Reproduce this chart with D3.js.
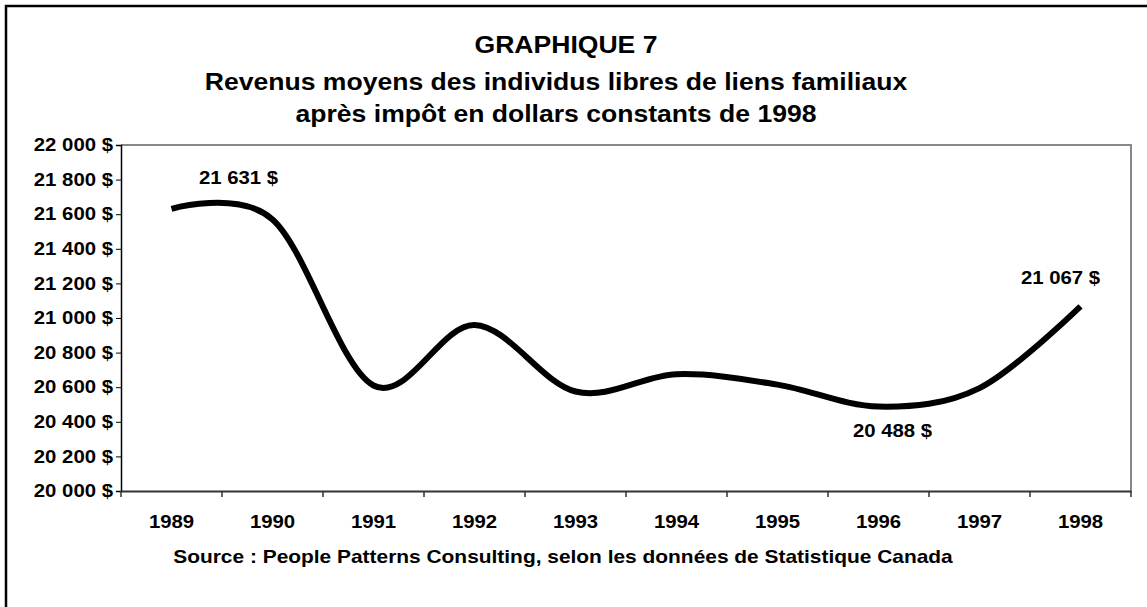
<!DOCTYPE html>
<html>
<head>
<meta charset="utf-8">
<script src="https://cdn.jsdelivr.net/npm/d3@7"></script>
<style>
  body { margin: 0; background: #fff; }
  svg text { font-family: "Liberation Sans", Arial, sans-serif; font-weight: bold; fill: #000; }
</style>
</head>
<body>
<div id="chart"></div>
<script>
// Revenus moyens - individus libres de liens familiaux
const years = ["1989", "1990", "1991", "1992", "1993", "1994", "1995", "1996", "1997", "1998"];
const revenus = [21631, 21570, 20610, 20960, 20575, 20675, 20615, 20488, 20595, 21067];
const yTicks = [20000, 20200, 20400, 20600, 20800, 21000, 21200, 21400, 21600, 21800, 22000];
const titleLines = [
  "GRAPHIQUE 7",
  "Revenus moyens des individus libres de liens familiaux",
  "après impôt en dollars constants de 1998"
];
const sourceText = "Source : People Patterns Consulting, selon les données de Statistique Canada";
// points annotés : index dans la série
const labelled = [
  { i: 0, dx: 67, dy: -30 },
  { i: 7, dx: 14, dy: 26 },
  { i: 9, dx: -20, dy: -27 }
];

const width = 1147, height = 607;
const plot = { left: 121, right: 1131, top: 145, bottom: 491 };
const stretch = 1.13; // le texte de l'original est un peu élargi

const svg = d3.select("#chart")
  .append("svg")
  .attr("width", width)
  .attr("height", height);

// cadre extérieur
svg.append("rect")
  .attr("x", 6).attr("y", 6)
  .attr("width", width + 20).attr("height", height + 20)
  .style("fill", "none")
  .style("stroke", "#000")
  .style("stroke-width", 2.5);

const x = d3.scaleBand()
  .domain(years)
  .range([plot.left, plot.right]);

const y = d3.scaleLinear()
  .domain([20000, 22000])
  .range([plot.bottom, plot.top]);

const fmt = v => d3.format(",")(v).replace(/,/g, " ") + " $";

// titre
svg.selectAll(".title")
  .data(titleLines)
  .enter()
  .append("text")
  .attr("class", "title")
  .attr("x", (d, i) => i === 0 ? 566 : 556)
  .attr("y", (d, i) => [53, 90, 122][i])
  .attr("text-anchor", "middle")
  .style("font-size", "23.5px")
  .text(d => d);

// bordure du graphique (haut et droite en gris)
svg.append("path")
  .attr("d", `M${plot.left},${plot.top}H${plot.right}V${plot.bottom}`)
  .style("fill", "none")
  .style("stroke", "#888")
  .style("stroke-width", 2);

// axe Y
const yAxis = svg.append("g")
  .attr("transform", `translate(${plot.left},0)`)
  .call(d3.axisLeft(y).tickValues(yTicks).tickSize(5).tickPadding(3).tickFormat(fmt));
yAxis.select(".domain").style("stroke", "#000").style("stroke-width", 1.5);
yAxis.selectAll(".tick line").style("stroke", "#000");
yAxis.selectAll("text").style("font-size", "18px");

// axe X
const xAxis = svg.append("g")
  .attr("transform", `translate(0,${plot.bottom})`)
  .call(d3.axisBottom(x).tickSize(0).tickPadding(24));
xAxis.select(".domain").style("stroke", "#333").style("stroke-width", 2);
xAxis.selectAll("text").style("font-size", "18px");

// graduations entre catégories
svg.selectAll(".xtick")
  .data(years.concat(["end"]))
  .enter()
  .append("line")
  .attr("class", "xtick")
  .attr("x1", (d, i) => i < years.length ? x(d) : x(years[years.length - 1]) + x.bandwidth())
  .attr("x2", (d, i) => i < years.length ? x(d) : x(years[years.length - 1]) + x.bandwidth())
  .attr("y1", plot.bottom)
  .attr("y2", plot.bottom + 6)
  .style("stroke", "#333")
  .style("stroke-width", 1.5);

// courbe lissée
const line = d3.line()
  .x((d, i) => x(years[i]) + x.bandwidth() / 2)
  .y(d => y(d))
  .curve(d3.curveCardinal.tension(0));

svg.append("path")
  .datum(revenus)
  .attr("d", line)
  .style("fill", "none")
  .style("stroke", "#000")
  .style("stroke-width", 6);

// étiquettes de valeurs
svg.selectAll(".vlabel")
  .data(labelled)
  .enter()
  .append("text")
  .attr("class", "vlabel")
  .attr("x", d => x(years[d.i]) + x.bandwidth() / 2 + d.dx)
  .attr("y", d => y(revenus[d.i]) + d.dy)
  .attr("text-anchor", "middle")
  .attr("dominant-baseline", "middle")
  .style("font-size", "18px")
  .text(d => fmt(revenus[d.i]));

// source
svg.append("text")
  .attr("x", 563)
  .attr("y", 563)
  .attr("text-anchor", "middle")
  .style("font-size", "18.5px")
  .text(sourceText);

// élargissement horizontal des textes
svg.selectAll("text").each(function() {
  const len = this.getComputedTextLength();
  d3.select(this)
    .attr("textLength", len * stretch)
    .attr("lengthAdjust", "spacingAndGlyphs");
});
</script>
</body>
</html>
